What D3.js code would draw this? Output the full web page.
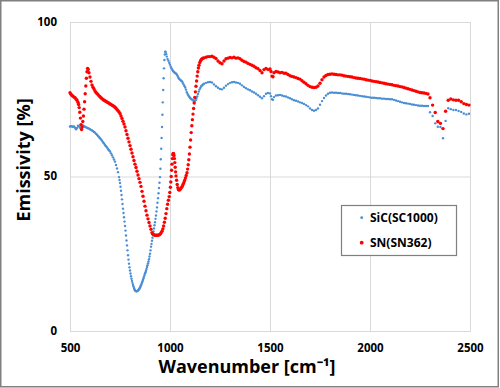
<!DOCTYPE html>
<html><head><meta charset="utf-8">
<script src="https://cdn.jsdelivr.net/npm/d3@7"></script>
<style>
body{margin:0;background:#fff}
svg{display:block}
text{font-family:"Open Sans",sans-serif;font-weight:bold;fill:#000}
</style>
</head><body>
<svg id="chart" width="500" height="388"></svg>
<script>
// ---- data ----
const seriesNames = ["SiC(SC1000)", "SN(SN362)"];
const xTicks = [500, 1000, 1500, 2000, 2500];
const yTicks = [0, 50, 100];
const xTitle = "Wavenumber [cm\u207B\u00B9]";
const yTitle = "Emissivity [%]";

// SiC(SC1000): [wavenumber, emissivity]
const sicData = [
[500,66.2],[505,66.3],[510,66.2],[515,66.1],[520,66.2],[525,65.8],[530,65.3],[535,65.7],[540,66.4],[545,66.2],
[550,65.8],[555,65.9],[560,66.3],[565,66.5],[570,66.3],[575,66.1],[580,65.9],[585,65.8],[590,65.6],[595,65.5],
[600,65.3],[605,65.1],[610,64.9],[615,64.7],[620,64.4],[625,64.2],[630,63.8],[635,63.5],[640,63.1],[645,62.8],
[650,62.4],[655,62.0],[660,61.6],[665,61.1],[670,60.7],[675,60.2],[680,59.8],[685,59.4],[690,58.9],[695,58.5],
[700,58.1],[705,57.5],[710,56.9],[715,56.2],[720,55.5],[725,54.8],[730,53.7],[735,52.6],[740,51.4],[745,49.8],
[747.5,48.9],[750,47.9],[752.5,46.7],[755,45.4],[757.5,44.0],[760,42.6],[762.5,41.1],[765,39.6],[767.5,38.2],[770,36.8],
[772.5,35.4],[775,34.0],[777.5,32.5],[780,30.9],[782.5,29.3],[785,27.7],[787.5,26.1],[790,24.5],[792.5,23.1],[795,21.8],
[797.5,20.6],[800,19.6],[802.5,18.6],[805,17.7],[807.5,16.9],[810,16.2],[812.5,15.5],[815,14.9],[817.5,14.4],[820,13.9],
[822.5,13.5],[825,13.2],[827.5,13.0],[830,12.9],[832.5,12.85],[835,12.9],[837.5,13.0],[840,13.1],[842.5,13.3],[845,13.5],
[847.5,13.8],[850,14.1],[852.5,14.4],[855,14.8],[857.5,15.2],[860,15.6],[862.5,16.1],[865,16.6],[867.5,17.1],[870,17.6],
[872.5,18.1],[875,18.6],[877.5,19.0],[880,19.5],[882.5,20.1],[885,20.7],[887.5,21.3],[890,21.9],[892.5,22.5],[895,23.2],
[897.5,24.1],[900,25.0],[902.5,26.1],[905,27.3],[907.5,28.2],[910,29.2],[912.5,30.2],[915,31.2],[917.5,32.2],[920,33.2],
[922.5,34.2],[925,35.2],[927.5,36.3],[930,37.4],[932.5,38.7],[935,40.0],[937.5,41.5],[940,43.0],[942.5,44.6],[945,46.3],
[947.5,48.0],[950,49.8],[952,52.5],[954,55.6],[956,59.0],[958,62.5],[960,66.0],[962,70.0],[964,74.0],[966,78.0],[968,81.8],
[970,85.0],[972,87.7],[974,89.5],[976,90.4],[978,90.3],[981,89.6],[984,88.8],[988,88.0],[992,87.5],[996,86.8],
[1000,86.2],[1004,85.5],[1008,85.0],[1012,84.5],[1016,84.1],[1020,83.8],[1024,83.6],[1028,83.4],[1032,83.2],[1036,82.8],
[1040,82.3],[1044,81.8],[1048,81.5],[1052,81.2],[1056,81.0],[1060,80.8],[1064,80.3],[1068,79.8],[1072,79.3],[1076,78.8],
[1080,78.1],[1084,77.3],[1088,76.7],[1092,76.2],[1096,75.8],[1100,75.5],[1104,75.2],[1108,75.0],[1112,74.8],[1116,74.6],
[1120,74.5],[1124,74.5],[1128,74.7],[1132,75.2],[1136,75.9],[1140,76.7],[1144,77.5],[1148,78.2],[1152,78.7],[1156,79.2],
[1160,79.5],[1165,79.8],[1170,80.0],[1180,80.3],[1190,80.5],[1200,80.6],[1210,80.4],[1220,79.8],[1230,79.2],[1240,78.7],
[1250,78.3],[1260,78.2],[1270,78.7],[1280,79.4],[1290,79.9],[1300,80.3],[1310,80.5],[1320,80.6],[1330,80.4],[1340,80.3],
[1350,80.0],[1360,79.5],[1370,79.0],[1380,78.6],[1390,78.2],[1400,77.9],[1410,77.5],[1420,77.2],[1430,76.8],[1440,76.3],
[1450,75.8],[1460,75.3],[1470,76.0],[1480,76.8],[1490,77.0],[1500,76.9],[1505,76.0],[1510,75.0],[1515,74.8],[1520,75.7],
[1530,76.2],[1540,76.3],[1550,76.4],[1560,76.2],[1570,76.0],[1580,75.9],[1590,75.6],[1600,75.3],[1610,75.0],[1620,74.7],
[1630,74.5],[1640,74.3],[1650,74.0],[1660,73.8],[1670,73.5],[1680,73.1],[1690,72.7],[1700,72.0],[1710,71.5],[1720,71.3],
[1730,71.5],[1740,72.0],[1750,73.2],[1760,74.4],[1770,75.4],[1780,76.2],[1790,76.8],[1800,77.1],[1810,77.2],[1820,77.1],
[1830,77.1],[1840,77.0],[1850,77.0],[1860,76.9],[1870,76.8],[1880,76.8],[1890,76.7],[1900,76.6],[1910,76.5],[1920,76.4],
[1930,76.3],[1940,76.2],[1950,76.1],[1960,76.0],[1970,75.9],[1980,75.8],[1990,75.7],[2000,75.6],[2010,75.5],[2020,75.5],
[2030,75.4],[2040,75.3],[2050,75.3],[2060,75.2],[2070,75.2],[2080,75.1],[2090,75.1],[2100,75.0],[2110,75.0],[2120,74.8],
[2130,74.6],[2140,74.4],[2150,74.2],[2160,74.0],[2170,73.8],[2180,73.7],[2190,73.6],[2200,73.5],[2210,73.3],[2220,73.2],
[2230,73.1],[2240,73.0],[2250,72.9],[2260,72.9],[2270,72.8],[2280,72.8],[2290,72.8],[2300,70.8],[2313,69.6],[2326,67.2],
[2339,66.1],[2352,66.0],[2365,62.4],[2378,68.0],[2391,72.1],[2404,71.8],[2417,71.5],[2430,71.5],[2443,71.2],[2456,70.9],
[2469,70.4],[2482,70.1],[2495,70.3]
];

// SN(SN362): [wavenumber, emissivity]
const snData = [
[500,77.1],[505,76.6],[510,76.2],[515,76.0],[520,75.7],[525,75.5],[530,75.1],[535,74.7],[540,74.0],[543,73.3],
[546,72.3],[549,70.8],[552,68.9],[555,66.8],[558,65.2],[561,66.0],[564,67.8],[567,69.6],[570,71.8],[573,74.2],
[576,76.8],[579,79.3],[582,81.8],[585,83.9],[588,85.0],[591,84.6],[595,83.6],[600,82.2],[605,80.8],[610,79.6],
[615,78.9],[620,78.3],[625,77.7],[630,77.2],[635,76.9],[640,76.5],[645,76.1],[650,75.8],[655,75.5],[660,75.2],
[665,74.9],[670,74.7],[675,74.5],[680,74.3],[685,74.1],[690,73.9],[695,73.7],[700,73.5],[705,73.3],[710,73.1],
[715,72.9],[720,72.7],[725,72.4],[730,72.1],[735,71.7],[740,71.3],[745,70.9],[750,70.4],[755,69.6],[760,68.8],
[765,67.9],[770,67.0],[775,66.0],[780,64.8],[785,63.6],[790,62.4],[795,61.2],[800,60.0],[805,58.8],[810,57.6],
[815,56.4],[820,55.2],[825,54.0],[830,52.9],[835,51.7],[840,50.5],[845,49.3],[850,48.1],[855,46.8],[860,45.2],
[865,43.6],[870,42.0],[875,40.4],[880,38.9],[885,37.5],[890,36.3],[895,35.1],[900,34.0],[905,32.9],[910,31.8],
[915,31.3],[920,31.1],[925,31.0],[930,31.0],[935,31.0],[940,31.0],[945,31.1],[950,31.3],[955,31.7],[960,32.3],
[964,33.0],[968,34.0],[972,35.2],[976,36.5],[980,38.0],[984,39.6],[988,41.0],[992,42.3],[996,43.5],[999,44.8],
[1002,46.5],[1004,48.2],[1006,50.0],[1008,52.0],[1010,54.0],[1012,55.8],[1014,57.0],[1016,57.5],[1018,57.4],[1020,56.8],
[1022,55.8],[1024,54.5],[1026,53.0],[1028,51.5],[1030,50.2],[1033,48.8],[1036,47.4],[1039,46.4],[1042,45.8],[1045,45.6],
[1049,45.7],[1053,46.0],[1057,46.4],[1061,46.8],[1065,47.4],[1069,48.0],[1073,48.7],[1077,49.5],[1081,50.3],[1085,51.2],
[1088,52.4],[1091,53.8],[1094,55.4],[1097,57.3],[1100,59.5],[1103,61.8],[1106,64.2],[1109,66.4],[1112,68.4],[1115,70.2],
[1118,72.0],[1121,73.8],[1124,75.6],[1127,77.4],[1130,79.2],[1133,80.9],[1136,82.5],[1139,83.9],[1142,85.1],[1145,86.0],
[1149,86.9],[1153,87.5],[1157,87.9],[1161,88.1],[1165,88.3],[1170,88.4],[1180,88.6],[1190,88.8],[1200,88.8],[1210,88.9],
[1220,88.6],[1230,88.2],[1240,87.4],[1250,86.8],[1260,86.5],[1270,87.4],[1280,88.1],[1290,88.3],[1300,88.5],[1310,88.4],
[1320,88.6],[1330,88.3],[1340,88.4],[1350,88.1],[1360,87.6],[1370,87.2],[1380,87.0],[1390,86.6],[1400,86.3],[1410,86.0],
[1420,85.7],[1430,85.2],[1440,84.9],[1450,84.3],[1460,83.6],[1470,84.6],[1480,85.0],[1490,84.6],[1500,84.8],[1505,84.0],
[1510,82.5],[1515,82.3],[1520,83.6],[1530,84.0],[1540,83.8],[1550,83.6],[1560,83.7],[1570,83.4],[1580,83.4],[1590,83.0],
[1600,82.6],[1610,82.4],[1620,82.2],[1630,82.0],[1640,81.7],[1650,81.5],[1660,81.0],[1670,80.5],[1680,80.0],[1690,79.5],
[1700,79.1],[1710,78.9],[1720,78.8],[1730,78.9],[1740,79.3],[1750,80.2],[1760,81.3],[1770,82.2],[1780,82.7],[1790,83.0],
[1800,83.1],[1810,83.2],[1820,83.1],[1830,83.0],[1840,82.9],[1850,82.9],[1860,82.8],[1870,82.6],[1880,82.5],[1890,82.4],
[1900,82.3],[1910,82.2],[1920,82.0],[1930,81.9],[1940,81.8],[1950,81.7],[1960,81.6],[1970,81.5],[1980,81.3],[1990,81.2],
[2000,81.1],[2010,80.9],[2020,80.8],[2030,80.7],[2040,80.6],[2050,80.4],[2060,80.3],[2070,80.2],[2080,80.0],[2090,79.9],
[2100,79.8],[2110,79.7],[2120,79.5],[2130,79.4],[2140,79.3],[2150,79.1],[2160,79.0],[2170,78.8],[2180,78.6],[2190,78.4],
[2200,78.2],[2210,78.0],[2220,77.8],[2230,77.6],[2240,77.4],[2250,77.2],[2260,77.1],[2270,77.0],[2280,76.9],[2290,76.7],
[2300,75.5],[2313,73.1],[2326,70.7],[2339,67.8],[2352,67.2],[2365,65.5],[2378,71.1],[2391,74.7],[2404,75.1],[2417,74.8],
[2430,74.7],[2443,74.7],[2456,74.2],[2469,73.6],[2482,73.3],[2495,73.1]
];

const colors = ["#4a8fd5", "#ff0000"];
const radii = [1.2, 1.7];

// ---- chart ----
const svg = d3.select("#chart");
const mLeft = 70, mRight = 470, mTop = 22, mBottom = 331;
const x = d3.scaleLinear().domain([500, 2500]).range([mLeft, mRight]);
const y = d3.scaleLinear().domain([0, 100]).range([mBottom, mTop]);

svg.append("rect").attr("x", 0).attr("y", 0).attr("width", 500).attr("height", 388).attr("fill", "#fff");

// grid + axes
const gx = svg.append("g").attr("transform", `translate(0,${mBottom})`)
  .call(d3.axisBottom(x).tickValues(xTicks).tickSize(-(mBottom - mTop)).tickFormat(d3.format("d")));
gx.selectAll("line").attr("stroke", "#d9d9d9");
gx.select(".domain").attr("stroke", "#d9d9d9");
gx.selectAll("text").attr("y", 21).attr("dy", 0).style("font-size", "11.5px").attr("fill", "#000");

const gy = svg.append("g").attr("transform", `translate(${mLeft},0)`)
  .call(d3.axisLeft(y).tickValues(yTicks).tickSize(-(mRight - mLeft)).tickPadding(13).tickFormat(d3.format("d")));
gy.selectAll("line").attr("stroke", "#d9d9d9");
gy.select(".domain").attr("stroke", "#d9d9d9");
gy.selectAll("text").attr("dy", "0.28em").style("font-size", "11.5px").attr("fill", "#000");

// series
[sicData, snData].forEach((data, i) => {
  svg.append("g").selectAll("circle").data(data).join("circle")
    .attr("cx", d => x(d[0])).attr("cy", d => y(d[1]))
    .attr("r", radii[i]).attr("fill", colors[i]);
});

// axis titles
svg.append("text").attr("x", 247).attr("y", 373).attr("text-anchor", "middle")
  .style("font-size", "18px").text(xTitle);
svg.append("text").attr("transform", "translate(30,160) rotate(-90)").attr("text-anchor", "middle")
  .style("font-size", "18px").text(yTitle);

// legend
const lg = svg.append("g");
lg.append("rect").attr("x", 341.5).attr("y", 205.5).attr("width", 115).attr("height", 50)
  .attr("fill", "#fff").attr("stroke", "#7f7f7f").attr("stroke-width", 1.2);
seriesNames.forEach((name, i) => {
  const cy = 217.7 + i * 25;
  lg.append("circle").attr("cx", 361.7).attr("cy", cy).attr("r", radii[i] + 0.2).attr("fill", colors[i]);
  lg.append("text").attr("x", 370).attr("y", cy + 4.5).style("font-size", "12px").text(name);
});

// outer border
svg.append("rect").attr("x", 0.75).attr("y", 0.75).attr("width", 497.5).attr("height", 386)
  .attr("fill", "none").attr("stroke", "#808080").attr("stroke-width", 1.5);
</script>
</body></html>
